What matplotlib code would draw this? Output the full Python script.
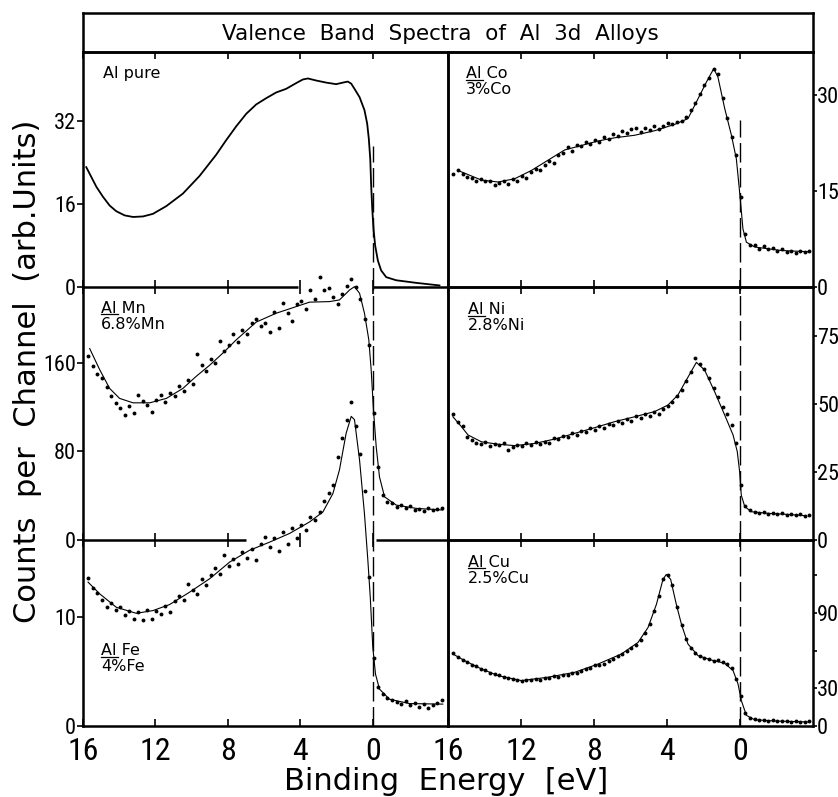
import numpy as np
import matplotlib.pyplot as plt

# channel energies of the dotted spectra (eV)
dot_e = np.arange(15.7, -3.85, -0.25)

# Al pure (smooth curve only)
al_e = [15.82, 15.54, 15.26, 14.90, 14.53, 14.16, 13.70, 13.24, 12.69, 12.14, 11.40, 10.49, 9.57, 8.65,
        8.10, 7.54, 6.99, 6.44, 5.89, 5.34, 4.79, 4.24, 3.87, 3.59, 3.13, 2.58, 2.03, 1.66, 1.39, 1.20,
        1.02, 0.74, 0.47, 0.32, 0.23, 0.15, 0.10, 0.04, -0.03, -0.12, -0.27, -0.45, -0.73, -1.28,
        -2.38, -3.67]
al_v = [23.1, 21.2, 19.3, 17.4, 15.7, 14.6, 13.8, 13.5, 13.6, 14.1, 15.6, 18.0, 21.4, 25.5,
        28.3, 31.0, 33.4, 35.2, 36.4, 37.5, 38.2, 39.3, 40.0, 40.2, 39.8, 39.4, 39.1, 39.4, 39.6, 39.2,
        38.2, 36.6, 34.1, 31.5, 28.6, 24.7, 19.6, 15.1, 11.2, 8.0, 5.1, 3.2, 1.9, 1.3,
        0.8, 0.3]

# Al Co
co_e = [15.45, 14.17, 13.26, 12.35, 11.43, 10.52, 9.61, 8.69, 7.78, 6.87, 5.77, 4.68, 3.58, 2.85,
        2.30, 1.84, 1.44, 1.21, 0.84, 0.47, 0.20, 0.02, -0.16, -0.35, -0.80, -2.26, -3.82]
co_v = [18.2, 16.7, 16.4, 16.9, 18.2, 19.8, 21.4, 22.1, 22.8, 23.3, 23.7, 24.4, 25.4, 26.3,
        29.4, 32.0, 34.1, 32.8, 27.9, 23.7, 20.0, 14.8, 9.1, 7.0, 6.25, 5.7, 5.5]
co_dots = [17.6, 18.3, 17.6, 17.2, 17.0, 16.6, 16.8, 16.5, 16.6, 16.0,
           16.3, 16.5, 16.1, 16.9, 16.5, 17.3, 17.0, 17.9, 18.5, 18.2,
           19.0, 19.6, 19.4, 20.6, 21.0, 21.8, 21.3, 22.2, 22.0, 22.7,
           22.4, 23.0, 22.6, 23.5, 23.1, 23.9, 23.6, 24.4, 24.0, 24.6,
           24.8, 24.2, 24.9, 24.5, 25.2, 24.7, 25.1, 25.6, 25.4, 25.8,
           26.0, 26.5, 27.6, 28.8, 30.2, 31.5, 32.6, 34.0, 33.2, 29.5,
           26.4, 23.5, 20.6, 14.0, 8.3, 6.6, 6.5, 6.0, 6.4, 5.9,
           6.1, 5.6, 5.9, 5.4, 5.7, 5.3, 5.6, 5.4, 5.6]

# Al Mn
mn_e = [15.63, 15.08, 14.53, 13.98, 13.24, 12.32, 11.40, 10.49, 9.75, 9.01, 8.28, 7.54, 6.44, 5.34,
        4.60, 3.50, 2.40, 1.85, 1.29, 1.02, 0.74, 0.47, 0.23, 0.10, -0.03, -0.18, -0.36, -0.64,
        -1.28, -2.38, -3.85]
mn_v = [173, 154, 137, 128, 124, 124, 128, 137, 148, 158, 169, 181, 197, 205,
        209, 215, 215.5, 217, 226, 229, 223, 205, 181, 154, 117, 84, 57, 39,
        31.6, 28.6, 27.1]
mn_dots = [166, 157, 150, 146, 138, 130, 124, 119, 113, 121,
           115, 131, 126, 122, 116, 127, 131, 125, 133, 130,
           139, 135, 145, 141, 168, 158, 153, 164, 160, 180,
           171, 176, 186, 179, 190, 186, 196, 200, 193, 196,
           188, 206, 192, 214, 205, 198, 213, 216, 209, 226,
           218, 238, 226, 228, 220, 213, 222, 230, 236, 229,
           218, 200, 176, 115, 66, 41, 34, 33, 30, 32,
           29, 31, 27, 28, 26, 29, 27, 28, 29]

# Al Ni
ni_e = [15.73, 15.27, 14.90, 14.17, 13.26, 12.35, 11.25, 10.16, 9.06, 7.96, 6.87, 5.77, 4.68, 3.95,
        3.40, 2.94, 2.39, 1.94, 1.39, 0.84, 0.38, 0.15, 0.02, -0.07, -0.26, -0.62, -1.53, -2.63, -3.63]
ni_v = [45.3, 41.7, 38.6, 36.1, 35.2, 34.7, 35.5, 37.1, 39.2, 41.3, 43.5, 45.3, 47.2, 49.6,
        53.3, 58.8, 65.3, 62.5, 54.5, 45.95, 38.6, 32.5, 25.1, 16.5, 12.3, 10.4, 9.8, 9.4, 8.9]
ni_dots = [46.4, 43.5, 42.0, 38.0, 36.6, 35.8, 35.2, 35.9, 34.6, 35.4,
           34.8, 35.6, 33.0, 34.3, 35.1, 34.6, 35.8, 35.1, 36.0, 35.3,
           36.2, 35.7, 37.5, 37.0, 38.4, 38.0, 39.3, 38.6, 40.1, 39.6,
           41.0, 40.4, 42.0, 41.3, 42.8, 42.2, 43.9, 43.1, 44.6, 43.8,
           45.6, 44.9, 46.2, 45.6, 47.0, 46.5, 48.3, 49.4, 50.8, 52.9,
           55.0, 58.3, 61.8, 66.9, 64.8, 62.8, 59.4, 55.8, 52.6, 48.9,
           46.5, 42.4, 35.8, 20.4, 12.6, 10.9, 10.4, 9.9, 10.3, 9.7,
           10.1, 9.5, 9.9, 9.3, 9.6, 9.2, 9.5, 9.0, 9.1]

# Al Fe
fe_e = [15.72, 15.08, 14.16, 13.06, 12.14, 11.22, 10.12, 9.01, 7.91, 6.81, 5.71, 4.60, 3.50, 2.76,
        2.21, 1.85, 1.48, 1.20, 1.02, 0.74, 0.47, 0.28, 0.15, 0.01, -0.14, -0.36, -0.91, -2.01, -3.85]
fe_v = [13.15, 12.08, 10.85, 10.3, 10.55, 11.1, 12.23, 13.46, 14.98, 16.06, 16.8, 17.6, 18.65, 19.57,
        21.25, 23.4, 26.76, 28.3, 28.0, 24.3, 19.4, 15.1, 11.8, 7.2, 4.74, 3.37, 2.45, 2.05, 2.0]
fe_dots = [13.5, 12.6, 12.2, 11.5, 10.9, 11.2, 10.6, 10.9, 10.1, 10.5,
           9.8, 10.4, 9.7, 10.6, 9.8, 10.5, 10.2, 11.0, 10.4, 11.4,
           11.9, 11.5, 13.0, 12.4, 12.1, 13.4, 12.9, 13.8, 14.4, 13.9,
           15.6, 14.6, 15.3, 14.8, 15.9, 15.4, 16.2, 15.2, 16.6, 17.3,
           16.4, 17.2, 16.0, 17.7, 16.6, 18.1, 17.2, 18.4, 17.9, 19.1,
           18.8, 19.6, 20.6, 21.3, 22.0, 24.6, 26.3, 28.0, 29.6, 27.4,
           24.9, 21.5, 13.6, 6.2, 3.6, 2.9, 2.6, 2.4, 2.2, 2.0,
           2.3, 1.9, 2.1, 1.7, 2.0, 1.6, 1.9, 2.1, 2.4]

# Al Cu
cu_e = [15.73, 15.09, 14.17, 13.26, 11.98, 10.52, 9.06, 7.78, 6.50, 5.59, 5.04, 4.58, 4.22, 4.04,
        3.80, 3.49, 3.21, 2.85, 2.30, 1.57, 0.84, 0.38, 0.11, -0.07, -0.35, -0.80, -1.90, -3.73]
cu_v = [57.4, 52.1, 45.5, 40.2, 36.2, 38.9, 42.8, 49.4, 57.4, 66.6, 78.5, 97.0, 116.9, 120.8,
        116.9, 97.0, 81.2, 65.3, 56.1, 52.6, 50.0, 44.2, 33.6, 20.4, 8.5, 5.0, 4.0, 3.2]
cu_dots = [58.0, 55.2, 53.0, 51.3, 49.0, 47.6, 45.2, 44.3, 42.4, 41.5,
           40.3, 38.9, 38.6, 37.2, 36.8, 35.6, 36.6, 36.3, 37.4, 37.0,
           38.4, 38.1, 39.6, 39.3, 41.0, 40.6, 42.0, 42.5, 44.2, 45.6,
           46.4, 48.3, 49.0, 49.5, 51.6, 53.4, 55.5, 57.2, 59.6, 62.0,
           64.8, 68.8, 74.0, 81.0, 91.5, 104.0, 117.5, 120.0, 112.5, 95.0,
           80.6, 69.5, 62.0, 58.2, 55.6, 54.0, 53.6, 52.2, 52.8, 51.0,
           49.8, 46.0, 37.5, 24.0, 10.2, 6.2, 5.4, 4.8, 4.6, 4.3,
           4.5, 4.0, 3.8, 3.9, 3.5, 3.6, 3.3, 3.4, 3.6]

x_ticks = [16, 12, 8, 4, 0]

W, H = 838, 797
fig = plt.figure(figsize=(W / 100, H / 100), dpi=100)
TICKFONT = ['Liberation Sans Narrow', 'Roboto Condensed', 'Noto Sans Condensed',
            'Open Sans Condensed', 'Roboto']


def box(x0, y0, x1, y1):
    ax = fig.add_axes([x0 / W, 1 - y1 / H, (x1 - x0) / W, (y1 - y0) / H])
    ax.patch.set_alpha(0)
    for s in ax.spines.values():
        s.set_linewidth(1.8)
    return ax


cols = [(83, 448, -4.14), (448, 813, -4.0)]
rows = [(52, 287), (287, 540), (540, 726)]

# (col, row, line_e, line_v, dots, ymax, yticks, ylabels, label, sublabel, label_xy, dash_top)
panels = [
    (0, 0, al_e, al_v, None, 45.3, [0, 16, 32], ['0', '16', '32'], 'Al pure', None, (0.055, 0.94), 0.60),
    (0, 1, mn_e, mn_v, mn_dots, 228.7, [0, 80, 160], ['0', '80', '160'], 'Al Mn', '6.8%Mn', (0.05, 0.945), 1.0),
    (0, 2, fe_e, fe_v, fe_dots, 17.0, [0, 10], ['0', '10'], 'Al Fe', '4%Fe', (0.05, 0.445), 1.0),
    (1, 0, co_e, co_v, co_dots, 36.7, [0, 15, 30], ['0', '15', '30'], 'Al Co', '3%Co', (0.05, 0.94), 0.71),
    (1, 1, ni_e, ni_v, ni_dots, 93.0, [0, 25, 50, 75], ['0', '25', '50', '75'], 'Al Ni', '2.8%Ni', (0.055, 0.94), 1.0),
    (1, 2, cu_e, cu_v, cu_dots, 148.3, [0, 30, 60, 90, 120], ['0', '30', '', '90', ''], 'Al Cu', '2.5%Cu', (0.055, 0.92), 1.0),
]

axes = {}
for col, row, le, lv, dots, ymax, yt, yl, lab, sub, (tx, ty), dtop in panels:
    x0, x1, xr = cols[col]
    y0, y1 = rows[row]
    ax = box(x0, y0, x1, y1)
    axes[(col, row)] = ax
    ax.set_xlim(16, xr)
    ax.set_ylim(0, ymax)
    ax.plot(le, lv, color='black', lw=1.3 if dots is None else 0.8, clip_on=False, zorder=3)
    if dots is not None:
        ax.plot(dot_e, dots, 'o', color='black', ms=2.8, mew=0, clip_on=False, zorder=4)
    ax.axvline(0, 0, dtop, color='black', lw=1.0, ls=(0, (14, 4)), zorder=2)

    ax.set_xticks(x_ticks)
    ax.tick_params(axis='x', direction='in', top=True, bottom=True, length=5, width=1.2,
                   labelbottom=(row == 2), labelsize=23, pad=8)
    ax.set_yticks(yt)
    ax.set_yticklabels(yl)
    if col == 0:
        ax.tick_params(axis='y', direction='out', left=True, right=False, labelleft=True,
                       length=4, width=1.2, labelsize=16, pad=1)
    else:
        ax.tick_params(axis='y', direction='out', left=False, right=True, labelleft=False,
                       labelright=True, length=3, width=1.2, labelsize=16, pad=0)
    for t in ax.get_xticklabels() + ax.get_yticklabels():
        t.set_family(TICKFONT)
        t.set_fontstretch('condensed')

    lab_txt = lab if sub is None else lab + '\n' + sub
    ax.text(tx, ty, lab_txt, transform=ax.transAxes, ha='left', va='top',
            fontsize=11.5, linespacing=1.1)
    if sub is not None:
        # underline under "Al"
        uy = ty - 13.5 / (y1 - y0)
        ax.plot([tx, tx + 0.046], [uy, uy], transform=ax.transAxes, color='black', lw=0.9,
                clip_on=False)

# boundary lines of the left column are interrupted where the curves cross them
left_gaps = {1: (4.14, 0.0), 2: (7.0, -0.18)}
for row, (ga, gb) in left_gaps.items():
    ax = axes[(0, row)]
    axes[(0, row - 1)].spines['bottom'].set_visible(False)
    ax.spines['top'].set_visible(False)
    span = 16 - cols[0][2]
    fa, fb = (16 - ga) / span, (16 - gb) / span
    for a, b in [(0, fa), (fb, 1)]:
        ax.plot([a, b], [1, 1], transform=ax.transAxes, color='black', lw=1.8,
                clip_on=False, solid_capstyle='butt', zorder=5)

# title box
tax = box(83, 13, 813, 52)
tax.set_xticks([])
tax.set_yticks([])
tax.text(0.49, 0.45, 'Valence  Band  Spectra  of  Al  3d  Alloys', transform=tax.transAxes,
         ha='center', va='center', fontsize=15.5)

fig.text(446 / W, 1 - 782 / H, 'Binding  Energy  [eV]', ha='center', va='center', fontsize=22)
fig.text(28 / W, 1 - 371 / H, 'Counts  per  Channel  (arb.Units)', ha='center', va='center',
         rotation=90, fontsize=22)

fig.savefig('out.png', dpi=100)
